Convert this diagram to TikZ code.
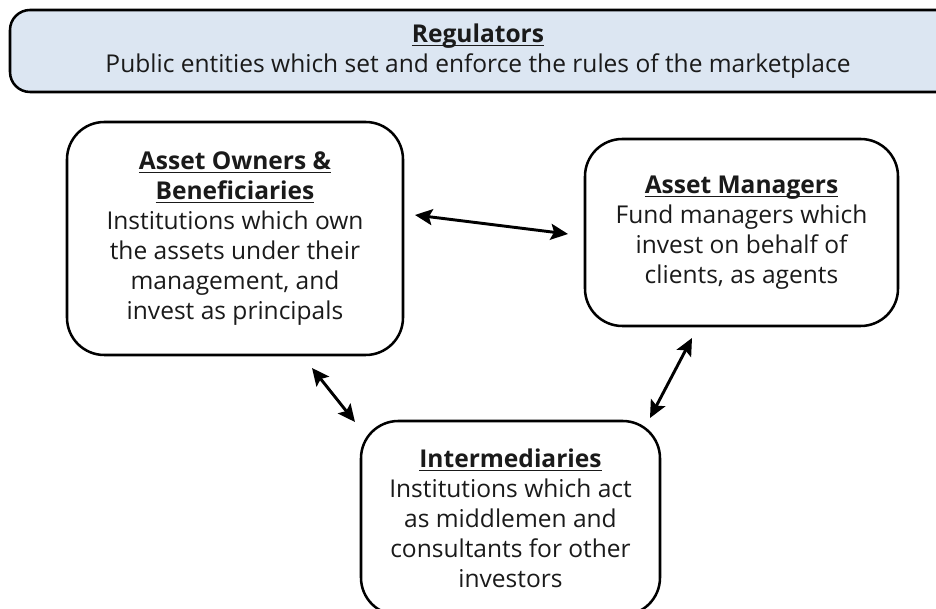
\documentclass[tikz,border=0pt]{standalone}
\usepackage{fontspec}
\setmainfont{Open Sans}
\usetikzlibrary{arrows.meta}
\definecolor{regfill}{HTML}{DCE6F2}
\definecolor{txt}{HTML}{1A1A1A}
\newcommand\myul[1]{\setbox0\hbox{#1}\rlap{\rule[-3pt]{\wd0}{1pt}}\box0}
\begin{document}
\begin{tikzpicture}[x=0.75pt,y=-0.75pt,
  txtstyle/.style={align=center, font=\fontsize{18.4}{22.5}\selectfont, text=txt, inner sep=0pt},
  box/.style={draw=black, line width=1.9pt, rounded corners=28pt, txtstyle},
  regbox/.style={draw=black, line width=1.9pt, fill=regfill, rounded corners=15pt},
  link/.style={line width=2.2pt,
    {Stealth[length=13pt,width=12pt,inset=2.5pt]}-{Stealth[length=13pt,width=12pt,inset=2.5pt]}}
]
\useasboundingbox (0,0) rectangle (936,609);

\draw[regbox] (10,10) rectangle (990,92);
\node[txtstyle] (reg) at (478,51)
  {\textbf{\myul{Regulators}}\\Public entities which set and enforce the rules of the marketplace};

\node[box, minimum width=252pt, minimum height=174.75pt] (owners) at (235,238.5)
  {\textbf{\myul{Asset Owners \&}}\\\textbf{\myul{Beneficiaries}}\\Institutions which own\\the assets under their\\management, and\\invest as principals};

\node[box, minimum width=234.75pt, minimum height=140.25pt] (managers) at (741.5,232.5)
  {\textbf{\myul{Asset Managers}}\\Fund managers which\\invest on behalf of\\clients, as agents};

\node[box, minimum width=224.25pt, minimum height=145.5pt] (inter) at (510.5,518)
  {\textbf{\myul{Intermediaries}}\\Institutions which act\\as middlemen and\\consultants for other\\investors};

\coordinate (a1) at (415,215);
\coordinate (a2) at (568,234);
\coordinate (b1) at (312,368);
\coordinate (b2) at (355,422);
\coordinate (c1) at (692,338);
\coordinate (c2) at (650,418);

\draw[link] (a1) -- (a2);
\draw[link] (b1) -- (b2);
\draw[link] (c1) -- (c2);
\end{tikzpicture}
\end{document}
